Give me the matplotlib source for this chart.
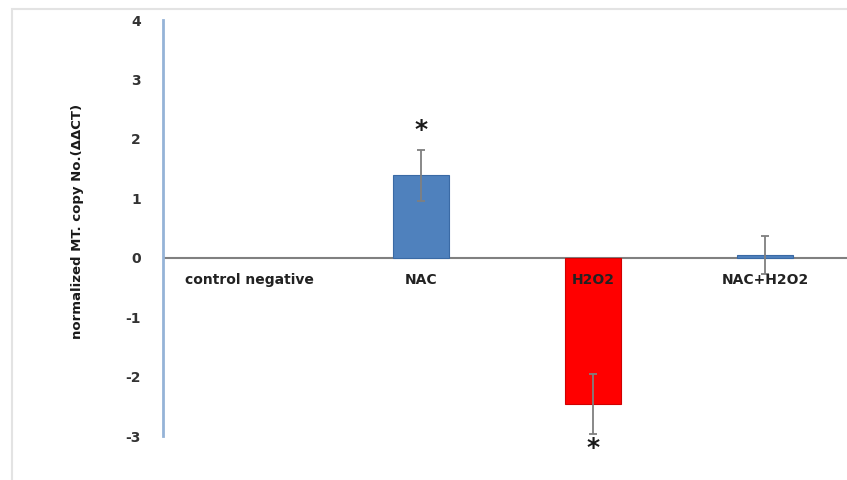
import numpy as np
import matplotlib.pyplot as plt
from matplotlib.patches import Rectangle

categories = ['control negative', 'NAC', 'H2O2', 'NAC+H2O2']
values = [0.0, 1.39, -2.46, 0.04]
errors = [0.0, 0.43, 0.50, 0.32]
bar_colors = ['#4f81bd', '#4f81bd', '#ff0000', '#4f81bd']
edge_colors = ['none', '#3a6aa5', '#d00000', '#3a6aa5']
star_pos = {1: 2.15, 2: -3.2}
yticks = [-3, -2, -1, 0, 1, 2, 3, 4]

W, H = 847, 480
fig = plt.figure(figsize=(W / 100, H / 100), dpi=100)

# light grey frame around the chart area
fig.patches.append(Rectangle((12 / W, -0.05), 1.0, (480 - 9) / H + 0.05,
                             transform=fig.transFigure, fill=False,
                             edgecolor='#e3e3e3', lw=1.5))

ax = fig.add_axes([163 / W, 44 / H, 688 / W, 416 / H])
x = np.arange(len(categories))
ax.bar(x[1:], values[1:], width=0.33, color=bar_colors[1:],
       edgecolor=edge_colors[1:], linewidth=0.8, zorder=2)
ax.errorbar(x[1:], values[1:], yerr=errors[1:], fmt='none', ecolor='#7f7f7f',
            elinewidth=1.3, capsize=3, capthick=1.3, zorder=3)

ax.axhline(0, color='#808080', lw=1.5, zorder=1)
for i, ys in star_pos.items():
    ax.text(x[i], ys, '*', ha='center', va='center', fontsize=18,
            fontweight='bold', color='#1a1a1a')

for i, c in enumerate(categories):
    ax.text(x[i], -0.25, c, ha='center', va='top', fontsize=10,
            fontweight='bold', color='#222222', zorder=4)

ax.set_xlim(-0.5, 3.5)
ax.set_ylim(-3, 4)
ax.set_xticks([])
ax.set_yticks(yticks)
ax.set_yticklabels([str(t) for t in yticks], fontsize=10, fontweight='bold',
                   color='#333333')
ax.tick_params(axis='y', length=0, pad=16)
for sp in ['top', 'right', 'bottom']:
    ax.spines[sp].set_visible(False)
ax.spines['left'].set_color('#95b3d7')
ax.spines['left'].set_linewidth(2)
ax.patch.set_alpha(0)

fig.text(77 / W, 1 - 221 / H, 'normalized MT. copy No.(\u0394\u0394CT)',
         rotation=90, ha='center', va='center', fontsize=9.5,
         fontweight='bold', color='#1a1a1a')

plt.savefig('out.png', dpi=100)
